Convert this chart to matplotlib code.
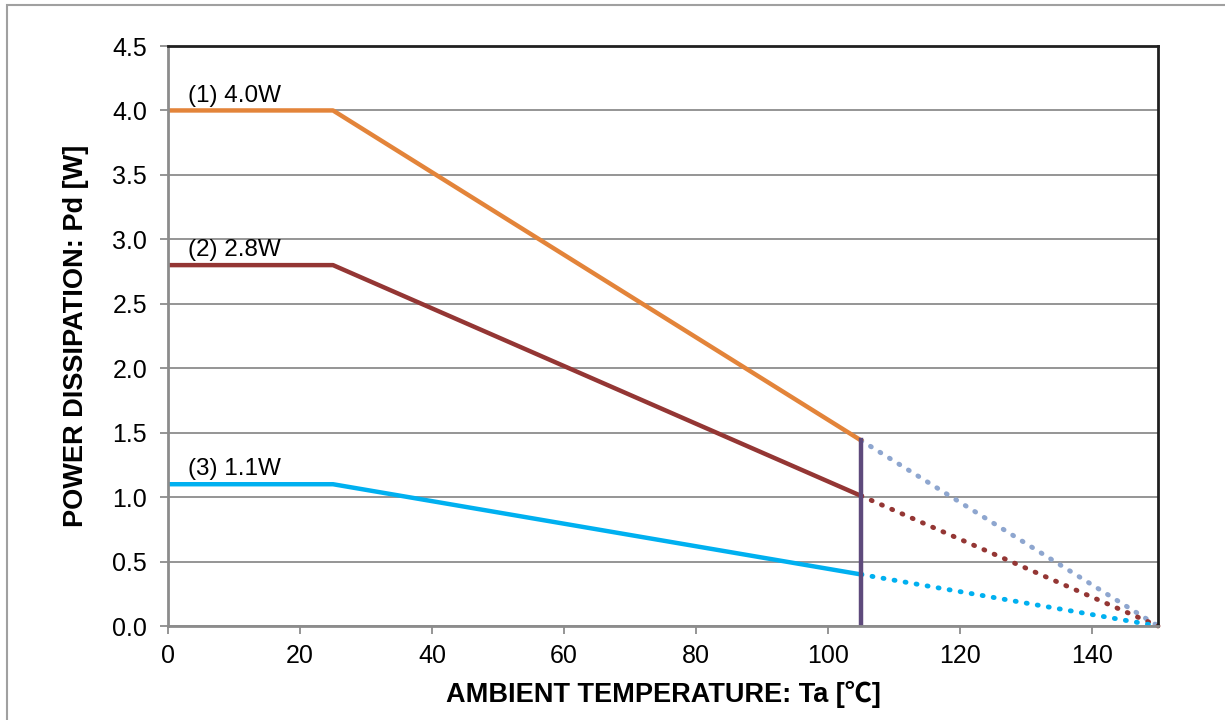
import matplotlib.pyplot as plt
from matplotlib.patches import Rectangle

# derating curves, Ta [C] vs Pd [W]
temp_solid = [0, 25, 105]
temp_dotted = [105, 150]
pd_1 = [4.0, 4.0, 1.44]
pd_2 = [2.8, 2.8, 1.01]
pd_3 = [1.1, 1.1, 0.40]
pd_1_ext = [1.44, 0.0]
pd_2_ext = [1.01, 0.0]
pd_3_ext = [0.40, 0.0]
labels = ["(1) 4.0W", "(2) 2.8W", "(3) 1.1W"]
label_pos = [(3, 4.0), (3, 2.8), (3, 1.1)]
limit_temp = 105
x_ticks = [0, 20, 40, 60, 80, 100, 120, 140]
y_ticks = [0.0, 0.5, 1.0, 1.5, 2.0, 2.5, 3.0, 3.5, 4.0, 4.5]


def main():
    plt.rcParams['font.family'] = ['Liberation Sans', 'Noto Sans CJK JP', 'DejaVu Sans']
    fig = plt.figure(figsize=(12.25, 7.2), dpi=100)
    ax = fig.add_axes([168/1225, 1-626/720, (1158-168)/1225, (626-46)/720])

    # outer frame of the picture
    fig.patches.append(Rectangle((7/1225, -0.05), 1.1, 1-5/720+0.05, transform=fig.transFigure,
                                 fill=False, edgecolor='#a0a0a0', lw=1.5))

    ax.set_xlim(0, 150)
    ax.set_ylim(0, 4.5)
    ax.set_xticks(x_ticks)
    ax.set_yticks(y_ticks)
    ax.set_yticklabels(["%.1f" % v for v in y_ticks])
    ax.grid(axis='y', color='#8c8c8c', lw=1.3)
    ax.set_axisbelow(True)

    for s in ['top', 'right']:
        ax.spines[s].set_color('#202020')
        ax.spines[s].set_linewidth(2)
    for s in ['left', 'bottom']:
        ax.spines[s].set_color('#8c8c8c')
        ax.spines[s].set_linewidth(2)
    ax.tick_params(axis='both', direction='out', color='#8c8c8c', width=1.3, length=6,
                   labelsize=18, pad=5)
    ax.tick_params(axis='y', pad=9)
    ax.tick_params(axis='x', pad=7)

    dots = (0, (0.2, 2.1))
    ax.plot(temp_dotted, pd_1_ext, color='#8ea6cf', lw=3.5, ls=dots, dash_capstyle='round', clip_on=False)
    ax.plot(temp_dotted, pd_2_ext, color='#943634', lw=3.5, ls=dots, dash_capstyle='round', clip_on=False)
    ax.plot(temp_dotted, pd_3_ext, color='#00b0f0', lw=3.5, ls=dots, dash_capstyle='round', clip_on=False)

    ax.plot(temp_solid, pd_1, color='#e3843a', lw=3.2)
    ax.plot(temp_solid, pd_2, color='#943634', lw=3.2)
    ax.plot(temp_solid, pd_3, color='#00b0f0', lw=3.2)

    ax.plot([limit_temp, limit_temp], [0, pd_1[-1]], color='#5e4a7c', lw=3.2)

    for txt, (x, y) in zip(labels, label_pos):
        ax.text(x, y + 0.03, txt, fontsize=17.5, va='bottom', ha='left')

    ax.set_xlabel("AMBIENT TEMPERATURE: Ta [℃]", fontsize=19.5, fontweight='bold', labelpad=9)
    ax.set_ylabel("POWER DISSIPATION: Pd [W]", fontsize=19.5, fontweight='bold', labelpad=17)

    fig.savefig("out.png", dpi=100)


if __name__ == "__main__":
    main()
